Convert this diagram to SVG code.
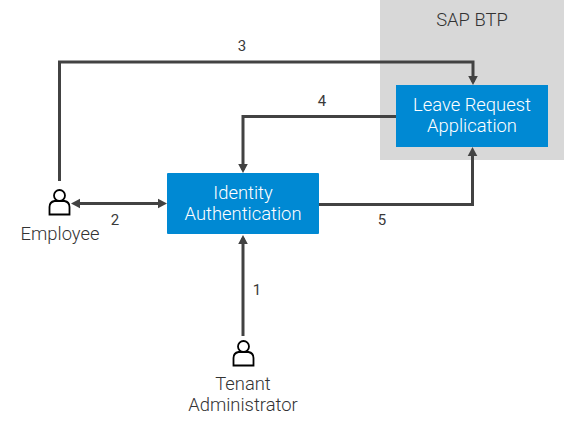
<svg xmlns="http://www.w3.org/2000/svg" width="564" height="425" viewBox="0 0 564 425">
<style>
text{font-family:Roboto,"Liberation Sans",sans-serif;text-anchor:middle;font-weight:300}
.lbl{font-size:18.400px;fill:#333}
.num{font-size:15px;fill:#3a3a3a;font-weight:400}
.box{fill:#0089d3}
.w{font-size:18.400px;fill:#fff}
.c{fill:none;stroke:#424242;stroke-width:3}
.p{fill:none;stroke:#000;stroke-width:1.800}
</style>
<defs>
<marker id="a" markerUnits="userSpaceOnUse" markerWidth="12" markerHeight="12" refX="6" refY="6" orient="auto-start-reverse"><path d="M0 1.200L9 6L0 10.800Z" fill="#424242"/></marker>
<g id="person"><circle cx="0" cy="-8.500" r="5.500" class="p"/><path class="p" d="M-10 10.500V3Q-10 -2 -5 -3H5Q10 -2 10 3V10.500Z"/></g>
</defs>
<g id="sap-btp"><rect x="380" y="0" width="184" height="160" fill="#d8d8d8"/><text x="472" y="26" class="lbl">SAP BTP</text></g>
<g id="connectors">
<path class="c" marker-end="url(#a)" d="M59.500 181V62H473V82"/>
<path class="c" marker-end="url(#a)" d="M396 116.500H243V170"/>
<path class="c" marker-start="url(#a)" marker-end="url(#a)" d="M74 203.500H164"/>
<path class="c" marker-end="url(#a)" d="M319 204.500H472.500V150"/>
<path class="c" marker-end="url(#a)" d="M243 336V238"/>
<text x="242" y="51" class="num">3</text>
<text x="322" y="106" class="num">4</text>
<text x="115" y="225" class="num">2</text>
<text x="382" y="225" class="num">5</text>
<text x="257" y="295" class="num">1</text>
</g>
<g id="leave-request"><rect x="396" y="85" width="152" height="62" class="box"/><text x="472" y="111" class="w">Leave Request</text><text x="472" y="132" class="w">Application</text></g>
<g id="identity-authentication"><rect x="167" y="173" width="152" height="61" rx="1" class="box"/><text x="243" y="199" class="w">Identity</text><text x="243" y="220" class="w">Authentication</text></g>
<g id="employee"><use href="#person" x="59.500" y="204"/><text x="60" y="240" class="lbl">Employee</text></g>
<g id="tenant-administrator"><use href="#person" x="243.500" y="355"/><text x="243" y="390" class="lbl">Tenant</text><text x="243" y="411" class="lbl">Administrator</text></g>
</svg>
